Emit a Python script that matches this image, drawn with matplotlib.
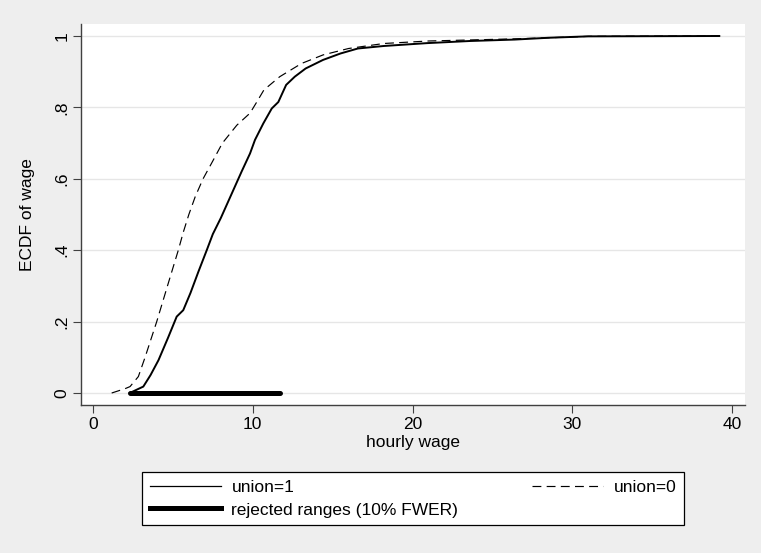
import matplotlib
matplotlib.use('Agg')
import matplotlib.pyplot as plt
from matplotlib.lines import Line2D

plt.rcParams['font.family'] = ['Liberation Sans', 'DejaVu Sans']

# ECDF of hourly wage, union=1 (solid)
wage_union1 = [2.3, 3.15, 3.6, 4.1, 4.7, 5.24, 5.65, 6.1, 6.6, 7.12, 7.5, 8.0, 8.4,
               8.8, 9.3, 9.83, 10.14, 10.66, 11.19, 11.6, 12.09, 12.63, 13.31, 14.4,
               15.49, 16.58, 18.2, 20.9, 23.6, 26.4, 28.5, 31.0, 39.2]
ecdf_union1 = [0.0, 0.018, 0.05, 0.092, 0.155, 0.214, 0.232, 0.28, 0.34, 0.40, 0.445,
               0.49, 0.53, 0.57, 0.62, 0.671, 0.709, 0.755, 0.797, 0.815, 0.863, 0.886,
               0.909, 0.933, 0.951, 0.965, 0.972, 0.98, 0.986, 0.99, 0.995, 0.999, 1.0]

# ECDF of hourly wage, union=0 (dashed)
wage_union0 = [1.17, 2.0, 2.32, 2.84, 3.26, 3.99, 4.71, 5.34, 5.65, 6.0, 6.4, 6.89,
               7.5, 8.1, 9.0, 9.83, 10.25, 10.7, 11.69, 13.05, 14.4, 16.0, 18.2, 21.0,
               26.4, 28.5, 31.0, 39.2]
ecdf_union0 = [0.0, 0.012, 0.018, 0.046, 0.10, 0.20, 0.307, 0.40, 0.45, 0.50, 0.55,
               0.60, 0.65, 0.70, 0.75, 0.784, 0.815, 0.849, 0.886, 0.923, 0.947, 0.965,
               0.979, 0.986, 0.992, 0.995, 0.999, 1.0]

# rejected ranges (10% FWER)
rejected_lo = [2.3]
rejected_hi = [11.7]

x_ticks = [0, 10, 20, 30, 40]
x_ticklabels = ['0', '10', '20', '30', '40']
y_ticks = [0, 0.2, 0.4, 0.6, 0.8, 1.0]
y_ticklabels = ['0', '.2', '.4', '.6', '.8', '1']

W, H = 761, 553
fs = 12.5
dash = (0, (7.5, 4.5))
fig = plt.figure(figsize=(W / 100, H / 100), dpi=100, facecolor='#eeeeee')
ax = fig.add_axes([81 / W, 1 - 405 / H, (745 - 81) / W, (405 - 24) / H])
ax.set_facecolor('white')

ax.plot(wage_union1, ecdf_union1, color='black', lw=1.4, zorder=3)
ax.plot(wage_union0, ecdf_union0, color='black', lw=0.85, ls=dash, zorder=3)
for lo, hi in zip(rejected_lo, rejected_hi):
    ax.plot([lo, hi], [0, 0], color='black', lw=3.6, solid_capstyle='round', zorder=4)

ax.set_xlim(-0.75, 40.81)
ax.set_ylim(-0.0336, 1.0336)
ax.set_xticks(x_ticks)
ax.set_xticklabels(x_ticklabels)
ax.set_yticks(y_ticks)
ax.set_yticklabels(y_ticklabels, rotation=90, va='center')

ax.yaxis.grid(True, color='#e6e6e6', lw=1.0)
ax.set_axisbelow(True)
for s in ['top', 'right']:
    ax.spines[s].set_visible(False)
for s in ['left', 'bottom']:
    ax.spines[s].set_color('#404040')
    ax.spines[s].set_linewidth(1.0)
ax.tick_params(direction='out', length=5.5, width=0.8, color='#404040',
               labelsize=fs, pad=3, labelcolor='black')

ax.set_xlabel('hourly wage', fontsize=fs, labelpad=2)
ax.set_ylabel('ECDF of wage', fontsize=fs, labelpad=14)

h1 = Line2D([], [], color='black', lw=0.9)
hr = Line2D([], [], color='black', lw=3.6)
h0 = Line2D([], [], color='black', lw=0.85, ls=dash)
leg = fig.legend(handles=[h1, hr, h0],
                 labels=['union=1', 'rejected ranges (10% FWER)', 'union=0'],
                 ncol=2, mode='expand', loc='center',
                 bbox_to_anchor=(142 / W, 1 - 530 / H, (684 - 142) / W, (530 - 467) / H),
                 borderaxespad=0, fontsize=fs, frameon=True, fancybox=False,
                 edgecolor='black', framealpha=1, borderpad=0.45, labelspacing=0.45,
                 handlelength=4.1, handletextpad=0.6)
leg.get_frame().set_linewidth(0.9)

fig.savefig('out.png', dpi=100, facecolor=fig.get_facecolor())
